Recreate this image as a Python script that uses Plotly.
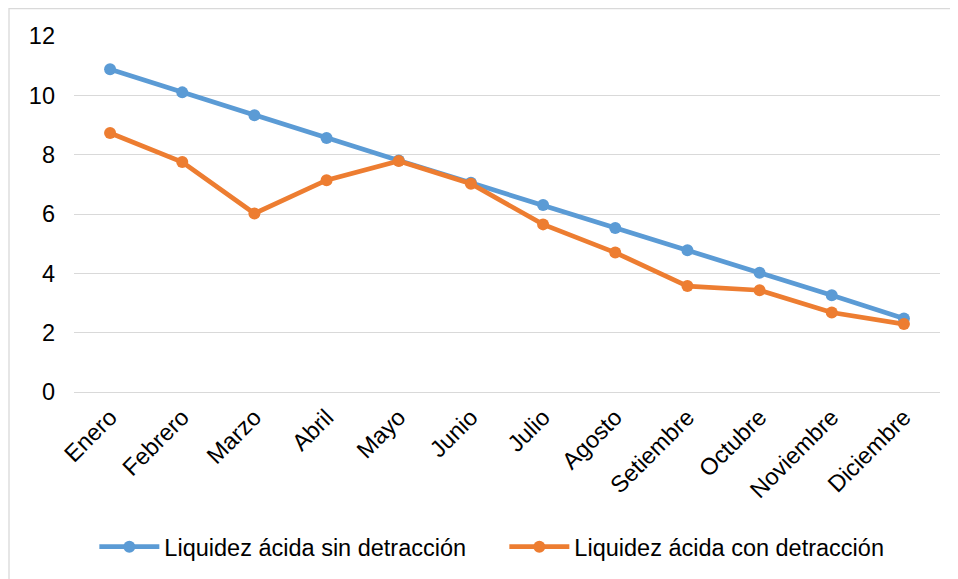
import plotly.graph_objects as go

months = ["Enero", "Febrero", "Marzo", "Abril", "Mayo", "Junio", "Julio",
          "Agosto", "Setiembre", "Octubre", "Noviembre", "Diciembre"]
sin_detraccion = [10.88, 10.10, 9.33, 8.56, 7.80, 7.05, 6.30, 5.53, 4.78, 4.02, 3.26, 2.48]
con_detraccion = [8.73, 7.75, 6.02, 7.14, 7.79, 7.02, 5.65, 4.70, 3.57, 3.43, 2.68, 2.29]
y_ticks = [0, 2, 4, 6, 8, 10, 12]

BLUE = "#5B9BD5"
ORANGE = "#ED7D31"
GRID = "#D9D9D9"
FONT = "Liberation Sans, Arial, sans-serif"

# page has an 8px body margin, so the figure is 950x571 placed at (8, 8)
W, H = 950, 571
L, R, T, B = 66, 18, 28, 187
PW = W - L - R
PH = H - T - B

fig = go.Figure()
fig.add_trace(go.Scatter(
    x=months, y=sin_detraccion, mode="lines+markers",
    name="Liquidez ácida sin detracción",
    line=dict(color=BLUE, width=4.75),
    marker=dict(color=BLUE, size=12),
))
fig.add_trace(go.Scatter(
    x=months, y=con_detraccion, mode="lines+markers",
    name="Liquidez ácida con detracción",
    line=dict(color=ORANGE, width=4.75),
    marker=dict(color=ORANGE, size=12),
))

fig.update_layout(
    width=W, height=H,
    margin=dict(l=L, r=R, t=T, b=B, autoexpand=False),
    paper_bgcolor="white", plot_bgcolor="white",
    font=dict(family=FONT, size=23.5, color="#000000"),
    showlegend=True,
    legend=dict(
        orientation="h", x=0.0235, xanchor="left", y=-0.435, yanchor="middle",
        font=dict(size=23.5, color="#000000"), itemwidth=60,
        entrywidth=335, entrywidthmode="pixels",
        bgcolor="rgba(0,0,0,0)",
    ),
    shapes=[dict(
        type="rect", xref="paper", yref="paper",
        x0=(1 - L) / PW, x1=1.2, y0=-1.0, y1=(T + PH - 0.5) / PH,
        line=dict(color=GRID, width=1.3), fillcolor="rgba(0,0,0,0)", layer="below",
    )],
)
fig.update_xaxes(
    type="category", range=[-0.5, len(months) - 0.5], tickangle=-45,
    showgrid=False, zeroline=False, showline=False, ticks="", ticklabelstandoff=6,
    tickfont=dict(size=23.5, family=FONT, color="#000000"),
)
fig.update_yaxes(
    range=[0, 12], tickvals=y_ticks, showgrid=True, gridcolor=GRID, gridwidth=1.3,
    zeroline=True, zerolinecolor=GRID, zerolinewidth=1.3, showline=False,
    ticks="", ticklabelstandoff=18,
    tickfont=dict(size=23.5, family=FONT, color="#000000"),
)

fig.write_html("out.html")
